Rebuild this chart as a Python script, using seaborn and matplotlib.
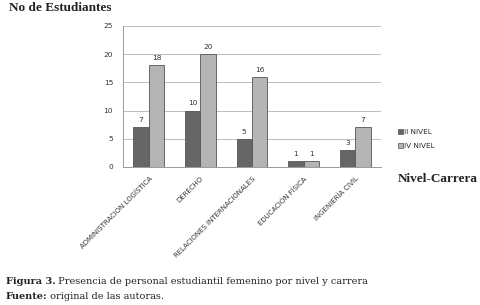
# Presencia de personal estudiantil femenino por nivel y carrera

import matplotlib
matplotlib.use('Agg')
import matplotlib.pyplot as plt
import pandas as pd
import seaborn as sns

sns.set_style('white')

# Data
carreras = ['ADMINISTRACIÓN LOGÍSTICA', 'DERECHO', 'RELACIONES INTERNACIONALES',
            'EDUCACIÓN FÍSICA', 'INGENIERÍA CIVIL']
ii_nivel = [7, 10, 5, 1, 3]
iv_nivel = [18, 20, 16, 1, 7]
niveles = ['II NIVEL', 'IV NIVEL']
y_ticks = [0, 5, 10, 15, 20, 25]

df = pd.DataFrame({
    'carrera': carreras * 2,
    'nivel': [niveles[0]] * len(carreras) + [niveles[1]] * len(carreras),
    'valor': ii_nivel + iv_nivel,
})

SERIF = 'Liberation Serif'
CAP_SERIF = 'DejaVu Serif'
SANS = 'DejaVu Sans'

fig = plt.figure(figsize=(4.8, 3.05), dpi=100)
ax = fig.add_axes([0.256, 0.4525, 0.538, 0.4625])

palette = {'II NIVEL': '#666666', 'IV NIVEL': '#b4b4b4'}
sns.barplot(data=df, x='carrera', y='valor', hue='nivel', palette=palette,
            width=0.6, edgecolor='#555555', linewidth=0.6, saturation=1,
            ax=ax, legend=False)

for cont in ax.containers:
    ax.bar_label(cont, padding=3, fontsize=5.3, family=SANS, color='#333333')

ax.set_ylim(0, 25)
ax.set_yticks(y_ticks)
ax.set_xlim(-0.5, len(carreras) - 0.5)
ax.yaxis.grid(True, color='#bcbcbc', linewidth=0.7)
ax.set_axisbelow(True)
for s in ['top', 'right']:
    ax.spines[s].set_visible(False)
for s in ['left', 'bottom']:
    ax.spines[s].set_color('#999999')
    ax.spines[s].set_linewidth(0.7)

ax.tick_params(axis='y', labelsize=5.3, colors='#333333', length=2, width=0.6, pad=5)
ax.tick_params(axis='y', color='#999999')
ax.set_xticks(range(len(carreras)))
ax.set_xticklabels(carreras, rotation=45, ha='right', rotation_mode='anchor',
                   fontsize=5.0, family=SANS, color='#333333')
ax.tick_params(axis='x', which='major', length=0, pad=6)
ax.set_xticks([i - 0.5 for i in range(len(carreras) + 1)], minor=True)
ax.tick_params(axis='x', which='minor', length=3, width=0.6, color='#999999')
ax.set_xlabel('')
ax.set_ylabel('')

# Legend
handles = [plt.Rectangle((0, 0), 1, 1, facecolor=palette[n], edgecolor='#555555', linewidth=0.5)
           for n in niveles]
fig.legend(handles, niveles, loc='upper left', bbox_to_anchor=(0.815, 0.60),
           frameon=False, handlelength=0.7, handleheight=0.7,
           handletextpad=0.2, labelspacing=1.2, prop={'family': SANS, 'size': 5.2})

fig.text(0.019, 0.992, 'No de Estudiantes', family=SERIF, weight='bold',
         fontsize=9.5, va='top', ha='left', color='#222222')
fig.text(0.829, 0.432, 'Nivel-Carrera', family=SERIF, weight='bold',
         fontsize=9.5, va='top', ha='left', color='#222222')

t1 = fig.text(0.012, 1 - 284 / 305, 'Figura 3.', family=CAP_SERIF, weight='bold',
              fontsize=7, va='baseline', color='#222222')
ax.annotate(' Presencia de personal estudiantil femenino por nivel y carrera',
            xy=(1, 0), xycoords=t1, va='bottom', ha='left', family=CAP_SERIF,
            fontsize=7, color='#222222', annotation_clip=False)
t2 = fig.text(0.012, 1 - 299 / 305, 'Fuente:', family=CAP_SERIF, weight='bold',
              fontsize=7, va='baseline', color='#222222')
ax.annotate(' original de las autoras.', xy=(1, 0), xycoords=t2, va='bottom',
            ha='left', family=CAP_SERIF, fontsize=7, color='#222222',
            annotation_clip=False)

plt.savefig('out.png', dpi=100)
plt.close()
